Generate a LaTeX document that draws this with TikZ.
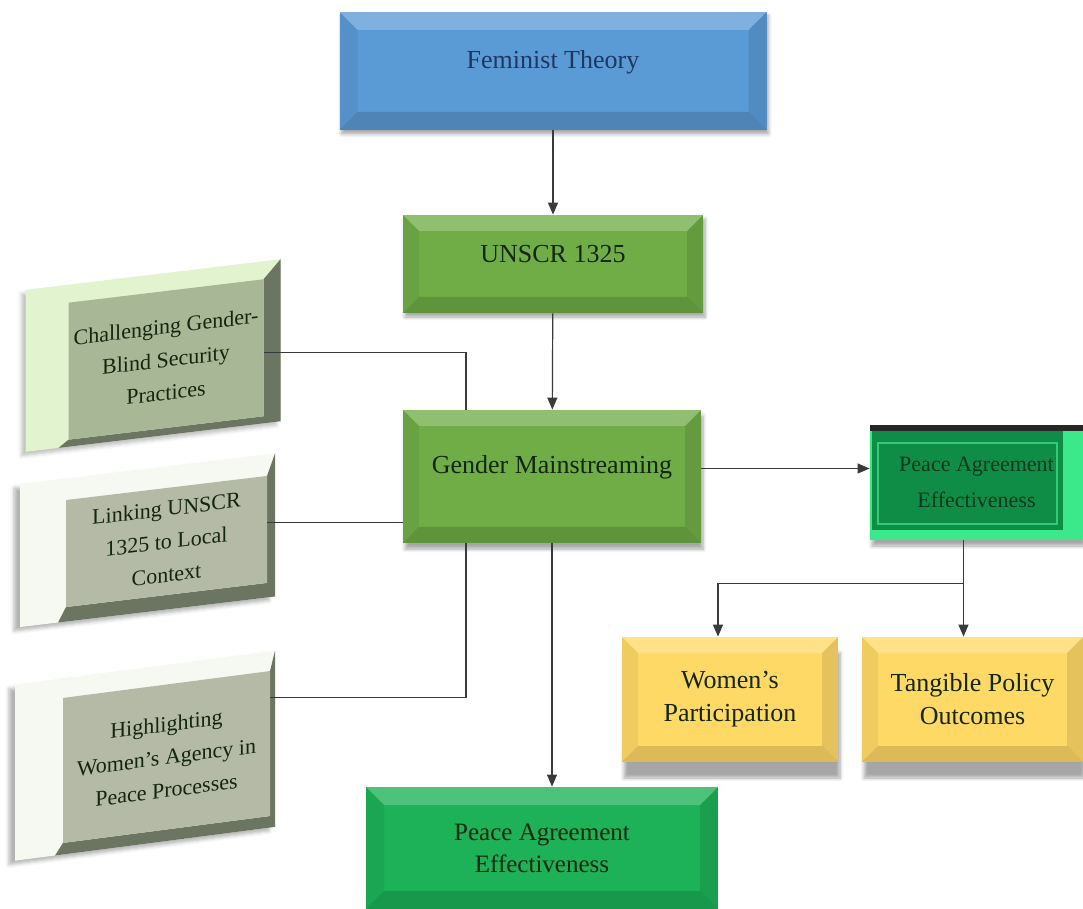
\documentclass[tikz,border=0pt]{standalone}
\usepackage{fontspec}
\setmainfont{Liberation Serif}
\usetikzlibrary{arrows.meta,shadows,shadows.blur}

\definecolor{ftblue}{HTML}{5B9BD5}
\definecolor{ftnavy}{HTML}{1F3763}
\definecolor{ungreen}{HTML}{70AD47}
\definecolor{pagreen}{HTML}{1DB257}
\definecolor{rpadark}{HTML}{0F8D46}
\definecolor{rpabright}{HTML}{3BE88A}
\definecolor{wpyellow}{HTML}{FFD966}
\definecolor{boxtext}{HTML}{13260E}
\definecolor{linegray}{HTML}{3A3A3A}
\definecolor{chalpanel}{HTML}{E2F3D0}
\definecolor{chalface}{HTML}{A8B796}
\definecolor{greypanel}{HTML}{F6F8F2}
\definecolor{greyface}{HTML}{B5BAA6}
\definecolor{bevdark}{HTML}{6C7462}

\tikzset{
  bevel/.style={path picture={
    \coordinate (bnw) at (path picture bounding box.north west);
    \coordinate (bne) at (path picture bounding box.north east);
    \coordinate (bsw) at (path picture bounding box.south west);
    \coordinate (bse) at (path picture bounding box.south east);
    \fill[white, opacity=.22] (bnw) -- (bne) -- ([xshift=-#1,yshift=-#1]bne) -- ([xshift=#1,yshift=-#1]bnw) -- cycle;
    \fill[black, opacity=.06] (bnw) -- ([xshift=#1,yshift=-#1]bnw) -- ([xshift=#1,yshift=#1]bsw) -- (bsw) -- cycle;
    \fill[black, opacity=.10] (bne) -- ([xshift=-#1,yshift=-#1]bne) -- ([xshift=-#1,yshift=#1]bse) -- (bse) -- cycle;
    \fill[black, opacity=.14] (bsw) -- ([xshift=#1,yshift=#1]bsw) -- ([xshift=-#1,yshift=#1]bse) -- (bse) -- cycle;
  }},
  box/.style={rectangle, inner sep=2pt, align=center, text=boxtext},
  face/.style={rectangle, inner sep=1pt, align=center, text=boxtext,
    font=\fontsize{11}{16.5}\selectfont, transform shape},
  softshadow/.style={blur shadow={shadow xshift=1pt, shadow yshift=-#1, shadow opacity=35, shadow blur steps=8}},
  arr/.style={-{Triangle[length=6pt,width=5pt]}, line width=0.6pt, draw=linegray},
  link/.style={line width=0.6pt, draw=linegray},
}

\begin{document}
\begin{tikzpicture}[x=0.5pt,y=-0.5pt]
\useasboundingbox (0,0) rectangle (1083,909);

% =========================
% main column
% =========================
\node[box, bevel=9pt, fill=ftblue, text=ftnavy, minimum width=213.5pt, minimum height=59pt,
  text depth=12pt, font=\fontsize{13}{16}\selectfont, softshadow=2pt] (ft) at (553,71) {Feminist Theory};

\node[box, bevel=8pt, fill=ungreen, minimum width=150pt, minimum height=49pt,
  text depth=10pt, font=\fontsize{13}{16}\selectfont, softshadow=2pt] (un) at (553,264) {UNSCR 1325};

\node[box, bevel=8pt, fill=ungreen, minimum width=149pt, minimum height=66.5pt,
  text depth=12pt, font=\fontsize{13}{16}\selectfont, softshadow=3pt] (gm) at (552,476.5) {Gender Mainstreaming};

\node[box, bevel=9pt, fill=pagreen, minimum width=176pt, minimum height=61pt,
  font=\fontsize{12.5}{16}\selectfont] (pa) at (542,848) {Peace Agreement\\Effectiveness};

% =========================
% right side
% =========================
\node[box, fill=rpabright, minimum width=106.5pt, minimum height=57.5pt, text=rpadark!40!black,
  font=\fontsize{11}{18}\selectfont, path picture={
    \coordinate (rnw) at (path picture bounding box.north west);
    \coordinate (rse) at (path picture bounding box.south east);
    \fill[rpadark] ([xshift=1pt,yshift=-3pt]rnw) rectangle ([xshift=-10pt,yshift=5pt]rse);
    \draw[rpabright!70!rpadark, line width=0.7pt] ([xshift=4pt,yshift=-9pt]rnw) rectangle ([xshift=-13pt,yshift=8pt]rse);
    \fill[black!85] (rnw) rectangle ([yshift=-3pt]rnw -| rse);
  }, softshadow=3pt] (rpa) at (976.5,482.5) {Peace Agreement\\Effectiveness};

\node[box, bevel=8pt, fill=wpyellow, minimum width=108pt, minimum height=62.5pt,
  font=\fontsize{13}{16.5}\selectfont, softshadow=8pt] (wp) at (730,699.5) {Women's\\Participation};

\node[box, bevel=8pt, fill=wpyellow, minimum width=110.5pt, minimum height=62.5pt,
  font=\fontsize{13}{16.5}\selectfont, softshadow=8pt] (tp) at (972.5,699.5) {Tangible Policy\\Outcomes};

% =========================
% left boxes
% =========================
\begin{scope}[shift={(166,359.5)}, yslant=0.12]
  \fill[chalpanel, blur shadow={shadow xshift=-2pt, shadow yshift=-2pt, shadow opacity=25}] (-140.5,-86.5) rectangle (114.5,75.5);
  \fill[bevdark] (97.5,-68.5) -- (114.5,-86.5) -- (114.5,75.5) -- (-107.5,75.5) -- (-97.5,68.5) -- (97.5,68.5) -- cycle;
  \node[face, fill=chalface, minimum width=97.5pt, minimum height=68.5pt] (chal) at (0,0) {Challenging Gender-\\Blind Security\\Practices};
\end{scope}

\begin{scope}[shift={(166.5,541.5)}, yslant=0.12]
  \fill[greypanel, blur shadow={shadow xshift=-3pt, shadow yshift=-2pt, shadow opacity=30}] (-146.5,-75) rectangle (108.5,68);
  \fill[bevdark] (100.5,-53.5) -- (108.5,-75) -- (108.5,68) -- (-108.5,68) -- (-100.5,53.5) -- (100.5,53.5) -- cycle;
  \node[face, fill=greyface, minimum width=100.5pt, minimum height=53.5pt] (link) at (0,0) {Linking UNSCR\\1325 to Local\\Context};
\end{scope}

\begin{scope}[shift={(166.5,757)}, yslant=0.13]
  \fill[greypanel, blur shadow={shadow xshift=-3pt, shadow yshift=-2pt, shadow opacity=30}] (-151.5,-92) rectangle (108.5,84);
  \fill[bevdark] (103.5,-72.5) -- (108.5,-92) -- (108.5,84) -- (-111.5,84) -- (-103.5,72.5) -- (103.5,72.5) -- cycle;
  \node[face, fill=greyface, minimum width=103.5pt, minimum height=72.5pt] (high) at (0,0) {Highlighting\\Women's Agency in\\Peace Processes};
\end{scope}

% =========================
% connectors
% =========================
\draw[arr] (ft) -- (un);
\draw[arr] (un) -- (gm);
\draw[arr] (gm.south) -- (gm.south |- pa.north);
\draw[arr] ([yshift=4pt]gm.east) -- ([yshift=4pt]gm.east -| rpa.west);

\coordinate (split) at ([xshift=-6.5pt,yshift=-21.5pt]rpa.south);
\draw[arr] ([xshift=-6.5pt]rpa.south) -- (split |- tp.north);
\draw[arr] (split) -| ([xshift=-6pt]wp.north);

\draw[link] ([yshift=-2.5pt]chal.east) -| ([xshift=-43pt]gm.north);
\draw[link] ([yshift=3.5pt]link.east) -- ([yshift=3.5pt]link.east -| gm.west);
\draw[link] ([yshift=23pt]high.east) -| ([xshift=-43pt]gm.south);

\end{tikzpicture}
\end{document}
